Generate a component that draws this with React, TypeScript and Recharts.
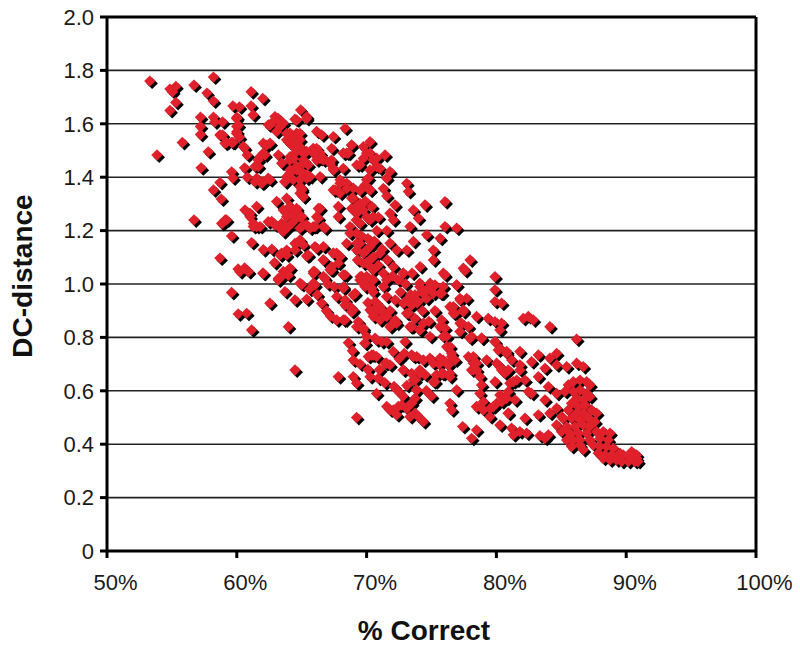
import {
  ScatterChart,
  Scatter,
  XAxis,
  YAxis,
  CartesianGrid,
  ReferenceLine,
} from "recharts"

const FONT = "'Liberation Sans', Arial, sans-serif"
const RED = "#e0202a"

const xTicks = [50, 60, 70, 80, 90, 100]
const yTicks = [0, 0.2, 0.4, 0.6, 0.8, 1.0, 1.2, 1.4, 1.6, 1.8, 2.0]

// [% correct, DC-distance]
const upperLeft = [
  [53.3, 1.76], [54.85, 1.73], [55.3, 1.74], [55.05, 1.72], [56.7, 1.745], [58.2, 1.775], [57.7, 1.715], [58.2, 1.685],
  [55.3, 1.68], [54.85, 1.65], [55.8, 1.53], [53.85, 1.483], [57.8, 1.495], [57.2, 1.625], [57.2, 1.59], [57.2, 1.56],
  [57.25, 1.435], [61.1, 1.72], [62, 1.695], [61.1, 1.667], [59.7, 1.667], [60.2, 1.663], [61.25, 1.633], [58.2, 1.625],
  [58.3, 1.607], [58.9, 1.607], [60, 1.625], [60, 1.59], [60, 1.57], [58.9, 1.558], [59.2, 1.53], [59.7, 1.53],
  [60.2, 1.55], [60.6, 1.51], [60.8, 1.483], [58.7, 1.38], [59.6, 1.42], [59.7, 1.397], [60.6, 1.435], [60.8, 1.4],
  [58.2, 1.352], [58.8, 1.318], [56.7, 1.24], [58.9, 1.228], [59.1, 1.24], [59.6, 1.18], [58.7, 1.097], [60.1, 1.056],
  [60.6, 1.06], [62, 1.04], [62.43, 1.596], [62.94, 1.627], [63.33, 1.608], [63.07, 1.571], [63.58, 1.602], [64.48, 1.617],
  [64.92, 1.652], [65.38, 1.627], [66.15, 1.571], [66.54, 1.558], [67.44, 1.552], [68.34, 1.583], [67.31, 1.508], [68.85, 1.521],
  [68.46, 1.49], [68.2, 1.433], [67.44, 1.427], [66.41, 1.402], [66.15, 1.508], [66.41, 1.49], [66.67, 1.471], [67.18, 1.452],
  [64.1, 1.565], [64.61, 1.565], [63.84, 1.54], [64.87, 1.54], [64.35, 1.515], [64.87, 1.502], [64.1, 1.477], [65.13, 1.465],
  [65.5, 1.446], [64.61, 1.44], [64.1, 1.427], [65.13, 1.415], [65.64, 1.402], [63.84, 1.402], [62.04, 1.527], [62.56, 1.527],
  [61.79, 1.477], [62.17, 1.483], [61.66, 1.44], [63.2, 1.483], [63.46, 1.452], [61.53, 1.396], [62.04, 1.383], [62.56, 1.39],
  [63.71, 1.383], [64.35, 1.39], [64.87, 1.365], [64.87, 1.34], [65.13, 1.327],
]

const upperLeftFill = [
  [59.98, 1.62], [60.11, 1.595], [59.98, 1.564], [59.6, 1.53], [59.09, 1.527], [58.7, 1.558], [60.5, 1.515], [61.65, 1.464],
  [62.04, 1.49], [62.3, 1.52], [61.4, 1.44], [62.68, 1.602], [63.19, 1.62], [63.32, 1.589], [62.55, 1.595], [63.84, 1.564],
  [64.35, 1.546], [64.86, 1.564], [63.97, 1.533], [64.86, 1.514], [65.38, 1.496], [64.48, 1.49], [64.09, 1.464], [65.12, 1.452],
  [64.61, 1.427], [64.09, 1.415], [63.71, 1.383], [64.86, 1.39], [65.38, 1.408], [65, 1.358], [65.12, 1.327], [61.4, 1.383],
  [61.91, 1.377], [62.42, 1.396], [66.02, 1.496], [66.4, 1.49], [66.66, 1.464], [65.89, 1.508], [66.15, 1.464], [67.3, 1.464],
  [67.43, 1.433], [68.84, 1.52], [68.2, 1.49], [68.59, 1.49], [70.51, 1.464], [70, 1.49], [70.77, 1.44], [69.74, 1.47],
  [70.26, 1.427], [69.49, 1.446],
]

const midLeft = [
  [67.56, 1.352], [67.95, 1.377], [68.46, 1.377], [68.98, 1.359], [67.82, 1.29], [66.41, 1.283], [66.15, 1.252], [63.07, 1.309],
  [63.84, 1.321], [64.1, 1.29], [64.61, 1.283], [63.84, 1.265], [64.35, 1.259], [64.87, 1.252], [64.22, 1.227], [65.13, 1.221],
  [65.64, 1.209], [66.02, 1.215], [66.79, 1.209], [63.58, 1.196], [62.69, 1.234], [63.2, 1.215], [60.63, 1.277], [61.53, 1.29],
  [61.02, 1.252], [61.27, 1.215], [61.79, 1.215], [61.14, 1.155], [62.04, 1.128], [63.33, 1.109], [63.84, 1.109], [64.61, 1.153],
  [65.13, 1.146], [66.15, 1.134], [65.38, 1.105], [66.67, 1.09], [67.69, 1.115], [67.82, 1.078], [63.58, 1.047], [64.1, 1.059],
  [65.9, 1.047], [67.18, 1.053], [68.2, 1.034], [66.67, 1.028], [67.82, 1.252], [66.67, 1.215], [66.28, 1.283], [66.28, 1.246],
  [64.87, 1.165], [64.49, 1.127], [65.5, 1.109], [66.67, 1.14], [64.61, 1.527], [65.13, 1.49], [64.36, 1.47], [64.87, 1.421],
  [65, 1.352], [65.38, 1.396], [65.9, 1.49], [66.41, 1.47], [67.18, 1.458], [64.61, 1.614], [65.38, 1.62], [68.21, 1.49],
]

const midLeftFill = [
  [63.58, 1.277], [64.09, 1.29], [64.61, 1.277], [63.84, 1.252], [64.48, 1.24], [65, 1.252], [63.45, 1.227], [63.97, 1.215],
  [64.86, 1.209], [65.38, 1.221], [65.89, 1.215], [62.94, 1.221], [62.42, 1.233], [61.01, 1.265], [61.27, 1.227], [61.53, 1.215],
  [58.83, 1.227], [59.21, 1.24], [63.45, 1.115], [63.84, 1.127], [64.48, 1.152], [64.86, 1.159], [63.19, 1.015], [63.58, 1.034],
  [63.97, 1.053], [67.43, 1.115], [67.95, 1.103], [66.66, 1.09], [67.3, 1.065], [66.02, 1.14], [68.72, 1.215], [69.23, 1.19],
  [69.49, 1.152], [70, 1.127], [70.26, 1.09], [69.23, 1.127], [68.46, 1.152], [69.74, 1.078], [70.51, 1.053], [70, 1.028],
  [69.74, 1.003], [67.95, 1.39], [68.46, 1.377], [67.43, 1.352], [67.95, 1.34], [68.97, 1.321], [69.49, 1.302], [70, 1.39],
  [70.26, 1.352], [69.74, 1.277], [70.51, 1.252], [68.84, 1.283], [69.23, 1.265],
]

const centerColumn = [
  [70.26, 1.533], [69.75, 1.514], [69.24, 1.446], [70.26, 1.49], [70.78, 1.471], [71.42, 1.483], [71.03, 1.433], [71.8, 1.421],
  [71.55, 1.396], [70.13, 1.396], [69.88, 1.371], [70.26, 1.352], [71.29, 1.358], [71.55, 1.33], [68.47, 1.358], [73.09, 1.377],
  [73.22, 1.346], [68.85, 1.321], [69.24, 1.29], [72.19, 1.296], [74.5, 1.296], [76.04, 1.308], [73.6, 1.277], [73.99, 1.246],
  [71.8, 1.265], [72.06, 1.24], [73.34, 1.215], [76.04, 1.215], [76.94, 1.209], [74.63, 1.184], [75.66, 1.171], [75.14, 1.127],
  [77.97, 1.09], [77.45, 1.059], [73.6, 1.159], [73.09, 1.127], [74.12, 1.065], [75.14, 1.09], [75.91, 1.04], [68.72, 1.19],
  [69.49, 1.227], [70.26, 1.24], [70.78, 1.2], [71.55, 1.2], [69.24, 1.153], [69.75, 1.115], [70.26, 1.14], [71.03, 1.115],
  [71.8, 1.153], [72.32, 1.127], [70.26, 1.065], [69.62, 1.028], [70.39, 1.015], [71.29, 1.04], [72.06, 1.065], [72.83, 1.04],
  [67.44, 1.115], [67.95, 1.103], [66, 1.046], [67.3, 1.052], [68.34, 1.034], [64.87, 1.003], [65.9, 1.003], [68.21, 0.99],
  [74.89, 1.003], [76.94, 0.996], [74.1, 1.003], [69.5, 1.35], [69.9, 1.31], [70.4, 1.29], [70, 1.25], [69.2, 1.24],
  [69.6, 1.18], [70.1, 1.17], [70.6, 1.16], [70.9, 1.25], [71.2, 1.13], [70.5, 1.1], [70, 1.08], [69.3, 1.09],
  [70.9, 1.07], [71.6, 1.09], [72, 1.03], [71.3, 0.99], [70.5, 0.97], [70.1, 0.93], [70.8, 0.9], [71.1, 0.87],
  [71.8, 0.9], [72.2, 0.94], [72.6, 0.97], [73, 1], [73.4, 0.96], [73.9, 0.93], [74.3, 0.9], [74.8, 0.86], [73.5, 1.04],
]

const lowerLeft = [
  [59.6, 0.968], [62.55, 0.928], [60.11, 0.888], [60.76, 0.89], [61.14, 0.828], [63.97, 0.84], [64.48, 0.678], [69.23, 0.5],
  [60.24, 1.046], [60.9, 1.046], [62.04, 1.04], [63.2, 1.021], [63.97, 1.033], [65, 0.998], [63.71, 0.971], [64.48, 0.94],
  [65.38, 0.943], [66.02, 0.996], [65.89, 1.04], [66.79, 1.021], [66.53, 0.928], [67.69, 0.865], [68.33, 0.865], [67.69, 0.953],
  [68.2, 0.984], [68.97, 0.959], [68.33, 0.921], [68.97, 0.903], [69.36, 0.859], [69.74, 0.828], [69.87, 0.778], [70.77, 0.79],
  [71.54, 0.784], [70.51, 0.734], [72.05, 0.747], [68.97, 0.715], [67.82, 0.653], [68.97, 0.653], [69.23, 0.628], [70.26, 0.653],
  [70.9, 0.647], [70.77, 0.59], [72.11, 0.616], [71.54, 0.703], [72.82, 0.678], [73.6, 0.728], [74.1, 0.678], [73.6, 0.64],
  [73.85, 0.603], [75.14, 0.634], [71.8, 0.528], [72.44, 0.541], [73.08, 0.534], [73.85, 0.51], [74.37, 0.484], [73.47, 0.553],
  [70.26, 0.99], [70.51, 0.89], [71.03, 0.915], [71.8, 0.84], [72.31, 0.853], [73.08, 0.89], [73.6, 0.928], [74.37, 0.965],
  [73.34, 0.84], [74.1, 0.828], [74.88, 0.803], [75.26, 0.9], [75.65, 0.84], [76.16, 0.803], [71.54, 0.953], [69.5, 1.027],
  [74.1, 0.99], [75.14, 0.965], [71.54, 1.015], [72.44, 1.015], [72.82, 1.04], [75.9, 0.99], [74.37, 0.715], [75.14, 0.703],
  [75.9, 0.715], [75.39, 0.66], [66.9, 0.9], [67.2, 0.88], [66.2, 0.96], [65.6, 0.98], [67.5, 0.99], [67, 1], [68.6, 0.78],
  [68.9, 0.75], [69.5, 0.7], [70.1, 0.68], [71, 0.68], [71.4, 0.63], [72.5, 0.72], [72.9, 0.74], [73.1, 0.62], [72.4, 0.6],
  [72.8, 0.58], [74.6, 0.6], [75, 0.58], [74.5, 0.66], [75.6, 0.7], [62.7, 1.13], [62.9, 1.08],
]

const centerFill = [
  [72.83, 0.928], [73.21, 0.946], [73.73, 0.959], [74.24, 0.971], [74.75, 0.984], [75.27, 0.996], [75.65, 0.965], [74.63, 0.946],
  [73.98, 0.934], [73.47, 0.921], [73.21, 0.89], [73.73, 0.871], [73.47, 0.84], [74.11, 0.828], [74.37, 0.853], [72.96, 0.784],
  [70.26, 0.903], [70.77, 0.915], [71.29, 0.896], [70.52, 0.878], [71.03, 0.865], [71.55, 0.878], [71.93, 0.847], [72.19, 0.865],
  [70.65, 0.934], [69.49, 1.015], [70, 1.021], [70.52, 1.015], [69.88, 0.99], [70.39, 0.984], [69.11, 0.965], [68.72, 0.915],
  [68.34, 0.94], [68.85, 0.896], [68.2, 0.865], [69.23, 0.84], [69.75, 0.834], [70, 0.803], [70.65, 0.797], [71.16, 0.784],
  [69.88, 0.778], [76.68, 0.915], [77.2, 0.94], [77.71, 0.946], [76.81, 0.89], [77.45, 0.896], [77.2, 0.853], [77.84, 0.84],
  [78.09, 0.803], [78.86, 0.797], [76.17, 0.765], [76.55, 0.74], [76.81, 0.715], [76.3, 0.697], [75.65, 0.722], [74.88, 0.722],
  [74.37, 0.715], [75.78, 0.665], [75.27, 0.634], [76.42, 0.653], [73.86, 0.728], [73.47, 0.734], [74.11, 0.665], [73.73, 0.64],
  [73.86, 0.603], [73.73, 0.572], [73.47, 0.665], [72.83, 0.678], [71.55, 0.541], [72.06, 0.528], [72.7, 0.547], [73.21, 0.541],
  [72.32, 0.51], [73.73, 0.516], [74.24, 0.491], [73.34, 0.503], [70.39, 0.734], [70.77, 0.728], [71.42, 0.703], [71.8, 0.697],
  [70.13, 0.728], [77.84, 0.728], [78.22, 0.703], [78.48, 0.678], [78.09, 0.678], [79.25, 0.715], [78.48, 0.541], [79, 0.559],
  [79.51, 0.534], [80.02, 0.553], [80.66, 0.572], [80.92, 0.516], [80.28, 0.759], [80.79, 0.74], [81.18, 0.715], [79.89, 0.784],
  [80.28, 0.69], [80.66, 0.666], [81.3, 0.634],
]

const lowerMiddle = [
  [79.89, 1.027], [79.89, 0.978], [79.89, 0.934], [80.4, 0.928], [82.46, 0.878], [82.84, 0.865], [82.07, 0.871], [84.12, 0.84],
  [86.18, 0.793], [76.42, 0.915], [77.19, 0.946], [76.68, 0.89], [77.45, 0.903], [77.32, 0.853], [77.19, 0.822], [77.96, 0.797],
  [78.86, 0.797], [78.47, 0.878], [79.37, 0.871], [79.89, 0.859], [80.4, 0.853], [80.27, 0.828], [79.89, 0.784], [80.14, 0.753],
  [80.79, 0.747], [81.81, 0.747], [83.23, 0.734], [84.64, 0.74], [84.12, 0.722], [82.71, 0.709], [81.81, 0.697], [84.64, 0.697],
  [85.41, 0.69], [86.18, 0.703], [86.69, 0.69], [78.22, 0.728], [78.47, 0.703], [78.22, 0.678], [79.25, 0.715], [78.73, 0.653],
  [78.86, 0.622], [79.89, 0.634], [80.02, 0.703], [80.4, 0.678], [80.91, 0.678], [81.81, 0.678], [81.04, 0.628], [81.56, 0.64],
  [82.2, 0.64], [80.91, 0.597], [80.79, 0.572], [81.43, 0.566], [82.46, 0.597], [82.71, 0.59], [83.23, 0.653], [83.74, 0.684],
  [84, 0.615], [83.74, 0.566], [84.64, 0.59], [76.93, 0.603], [78.73, 0.59], [80.27, 0.584], [76.42, 0.553], [76.55, 0.528],
  [78.47, 0.54], [78.99, 0.528], [79.5, 0.503], [79.76, 0.54], [80.4, 0.559], [80.91, 0.516], [82.2, 0.497], [83.23, 0.51],
  [84.12, 0.516], [84.64, 0.535], [85.02, 0.503], [84.64, 0.472], [77.4, 0.466], [78.47, 0.453], [78.09, 0.422], [80.27, 0.472],
  [81.17, 0.46], [81.3, 0.435], [81.81, 0.447], [82.33, 0.441], [83.35, 0.432], [84, 0.435], [83.74, 0.422], [76.03, 1.034],
  [77.58, 1.05], [76.93, 0.996], [75.78, 0.965], [75.78, 0.865], [76.03, 0.834], [75.9, 0.803], [76.42, 0.765], [76.55, 0.728],
  [76.16, 0.703], [75.9, 0.665], [76.42, 0.665],
]

const lowerRight = [
  [85.54, 0.622], [85.92, 0.634], [86.44, 0.64], [86.95, 0.634], [87.2, 0.622], [85.28, 0.597], [85.92, 0.597], [86.44, 0.603],
  [86.95, 0.59], [86.18, 0.572], [86.69, 0.566], [87.2, 0.578], [85.79, 0.553], [86.31, 0.54], [86.82, 0.547], [87.33, 0.528],
  [85.54, 0.528], [86.18, 0.516], [86.69, 0.516], [87.72, 0.516], [85.15, 0.497], [85.79, 0.497], [86.44, 0.491], [87.08, 0.497],
  [87.59, 0.484], [85.41, 0.466], [86.05, 0.466], [86.69, 0.472], [87.2, 0.466], [85.02, 0.447], [85.66, 0.441], [86.31, 0.441],
  [86.95, 0.441], [87.72, 0.447], [88.23, 0.447], [88.75, 0.441], [85.41, 0.416], [85.92, 0.416], [86.44, 0.416], [87.2, 0.416],
  [87.98, 0.422], [88.62, 0.416], [85.79, 0.391], [86.69, 0.379], [86.44, 0.397], [87.46, 0.397], [87.98, 0.391], [88.49, 0.391],
  [89, 0.385], [87.85, 0.366], [88.36, 0.36], [88.87, 0.36], [89.52, 0.366], [90.42, 0.372], [90.8, 0.36], [88.23, 0.347],
  [88.75, 0.341], [89.26, 0.341], [89.65, 0.335], [90.16, 0.335], [90.67, 0.335], [90.9, 0.335], [89.77, 0.36], [90.29, 0.353],
  [90.8, 0.347],
]

const points = [
  ...upperLeft,
  ...upperLeftFill,
  ...midLeft,
  ...midLeftFill,
  ...centerColumn,
  ...lowerLeft,
  ...centerFill,
  ...lowerMiddle,
  ...lowerRight,
].map(([pct, dist]) => ({ pct, dist }))

const diamondPath = (r: number) => `M0 ${-r}L${r} 0L0 ${r}L${-r} 0Z`

// The hard black shadows go in a layer below all the red diamonds
function Shadow({ cx, cy }: any) {
  return <path d={diamondPath(5.7)} fill="#000" transform={`translate(${cx + 2.3},${cy + 2.3})`} />
}

function Diamond({ cx, cy }: any) {
  return <path d={diamondPath(5.7)} fill={RED} transform={`translate(${cx},${cy})`} />
}

// x labels sit to the right of their tick marks
function XTick({ x, y, payload }: any) {
  return (
    <text x={x + 8.5} y={y + 30} textAnchor="middle" fontSize={22} fontFamily={FONT} fill="#1a1a1a">
      {payload.value}%
    </text>
  )
}

const titleStyle = { fontFamily: FONT, fontSize: 28, fontWeight: "bold", fill: "#111" }

export default function App() {
  return (
    <div style={{ position: "absolute", left: 0, top: 0, width: 800, height: 654, background: "#fff" }}>
      <ScatterChart width={800} height={654} margin={{ top: 17, right: 44, bottom: 0, left: 0 }}>
        <CartesianGrid vertical={false} stroke="#222" strokeWidth={1.6} />
        <XAxis
          type="number"
          dataKey="pct"
          domain={[50, 100]}
          ticks={xTicks}
          height={103}
          stroke="#000"
          strokeWidth={3}
          tickSize={7}
          tick={<XTick />}
          label={{
            content: () => (
              <text x={424} y={640} textAnchor="middle" style={titleStyle}>
                % Correct
              </text>
            ),
          }}
        />
        <YAxis
          type="number"
          dataKey="dist"
          domain={[0, 2]}
          ticks={yTicks}
          width={107}
          stroke="#000"
          strokeWidth={3}
          tickSize={7}
          tickMargin={6}
          tickFormatter={(v: number) => (v === 0 ? "0" : v.toFixed(1))}
          tick={{ fontFamily: FONT, fontSize: 22, fill: "#1a1a1a" }}
          label={{
            content: () => (
              <text x={32} y={276} textAnchor="middle" transform="rotate(-90 32 276)" style={titleStyle}>
                DC-distance
              </text>
            ),
          }}
        />
        <ReferenceLine y={2} stroke="#000" strokeWidth={3} />
        <ReferenceLine x={100} stroke="#000" strokeWidth={3} />
        <Scatter data={points} shape={<Shadow />} isAnimationActive={false} />
        <Scatter data={points} shape={<Diamond />} isAnimationActive={false} />
      </ScatterChart>
    </div>
  )
}
